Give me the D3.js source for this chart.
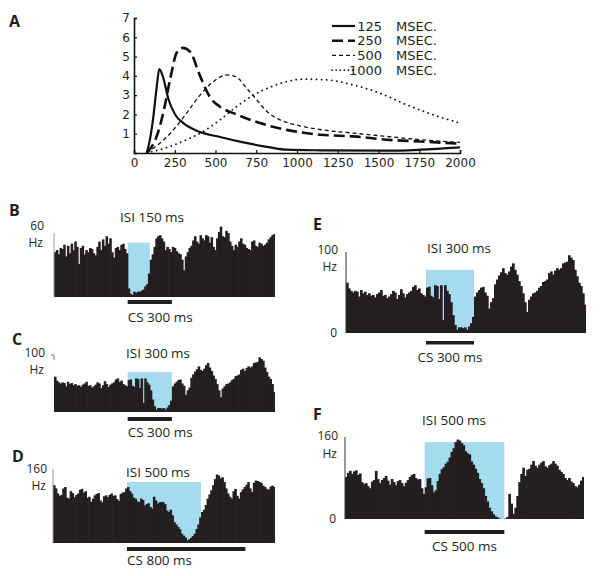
<!DOCTYPE html>
<html>
<head>
<meta charset="utf-8">
<script src="https://cdn.jsdelivr.net/npm/d3@7/dist/d3.min.js"></script>
<style>
  body { margin: 0; background: #fff; }
  svg text { font-family: "Open Sans", "Noto Sans", sans-serif; fill: #231f20; }
  .panelA text { font-family: "DejaVu Sans", sans-serif; }
</style>
</head>
<body>
<div id="chart"></div>
<script>
// ---- panel A: model curves, [ms, value]
const curve125 = [[78,0],[100,0.8],[119,1.9],[139,3.4],[155,4.35],[176,4.0],[211,2.8],[252,2.0],[303,1.55],[385,1.15],[528,0.83],[671,0.55],[834,0.29],[937,0.17],[1141,0.14],[1550,0.12],[1755,0.17],[2000,0.29]];
const curve250 = [[78,0],[139,0.86],[180,2.1],[221,3.8],[262,5.2],[299,5.45],[344,5.25],[405,4.0],[466,2.9],[528,2.4],[630,2.0],[773,1.55],[937,1.2],[1141,0.95],[1346,0.86],[1550,0.69],[1755,0.6],[2000,0.48]];
const curve500 = [[78,0],[221,1.0],[323,2.07],[405,3.0],[487,3.7],[569,4.05],[630,3.93],[691,3.36],[753,2.76],[814,2.16],[896,1.72],[1018,1.41],[1182,1.17],[1346,1.03],[1550,0.86],[1755,0.69],[2000,0.55]];
const curve1000 = [[78,0],[221,0.34],[323,0.69],[425,1.12],[528,1.72],[630,2.41],[732,3.0],[834,3.41],[937,3.7],[1039,3.83],[1182,3.79],[1346,3.53],[1509,3.1],[1673,2.5],[1836,1.98],[2000,1.55]];
const legendNames = ["125", "250", "500", "1000"];
const xTicksA = [0, 250, 500, 750, 1000, 1250, 1500, 1750, 2000];
const yTicksA = [1, 2, 3, 4, 5, 6, 7];

// ---- histograms: Hz per 12.5 ms bin, from -500 to 1000 ms (CS onset at 0)
const histB = [42,44,40,46,45,49,38,48,41,50,44,52,47,31,46,48,40,44,42,46,45,41,39,47,52,44,54,48,57,50,55,42,37,46,47,44,49,50,45,41,
  8,3,2,5,4,5,5,6,7,10,12,22,
  35,40,47,55,57,58,55,52,44,47,45,42,47,46,43,41,40,35,25,38,42,46,48,53,57,52,50,58,55,53,58,57,51,56,47,44,55,61,66,57,56,62,60,52,48,44,49,47,52,55,50,49,46,45,44,52,53,48,47,51,50,48,49,51,54,56,58,59];
const histCE = [62,55,52,50,52,51,45,53,49,51,47,49,46,47,44,48,50,53,46,47,43,45,48,52,50,42,47,54,49,44,48,50,52,57,59,53,55,49,47,45,
  56,57,46,44,59,58,42,59,16,59,52,48,38,22,10,4,7,7,6,7,4,8,12,20,
  45,50,53,56,57,50,46,30,38,43,60,66,71,75,80,74,72,76,82,86,78,72,64,58,49,38,26,41,45,49,50,52,56,58,63,64,66,74,76,72,77,80,78,80,86,87,88,96,93,90,78,70,62,58,49,35];
const histD = [125,118,107,102,104,118,121,98,96,112,108,99,104,107,115,117,109,112,98,100,89,96,103,106,108,92,88,101,103,99,104,107,102,103,95,91,106,109,110,118,
  121,112,107,98,96,90,88,96,93,81,84,86,78,74,100,92,85,88,89,88,84,70,67,72,60,45,40,35,30,20,16,12,6,8,11,15,20,30,40,55,
  67,72,82,96,105,114,125,138,148,146,140,142,132,118,107,100,96,112,117,102,96,110,116,121,126,132,118,110,130,135,134,132,130,124,121,117,115,122,124,121];
const histF = [82,90,94,88,93,95,86,89,72,68,70,64,60,73,76,94,78,70,76,80,84,75,67,78,72,66,74,76,70,64,71,76,82,86,88,80,77,78,60,49,
  62,79,80,66,52,56,74,88,97,101,108,112,120,131,138,150,155,153,148,144,132,128,126,112,106,98,90,78,70,60,45,34,22,15,9,5,3,1,0,0,
  1,4,49,30,10,22,45,72,88,100,84,96,98,106,113,104,100,106,110,113,103,100,105,108,113,108,104,96,92,88,80,76,80,73,70,64,62,67,75,82];

const binMs = 12.5;
const tStart = -500, tEnd = 1000;

const width = 600, height = 576;
const svg = d3.select('#chart').append('svg')
  .attr('width', width)
  .attr('height', height);

// ================= panel A =================
const gA = svg.append('g').attr('class', 'panelA');
const xA = d3.scaleLinear().domain([0, 2000]).range([134, 460]);
const yA = d3.scaleLinear().domain([0, 7]).range([153, 18]);

svg.append('text').attr('x', 9).attr('y', 27)
  .style('font-weight', 'bold').style('font-size', '16px').text('A');

const xAxisA = gA.append('g')
  .attr('transform', `translate(0,${yA(0)})`)
  .call(d3.axisBottom(xA).tickValues(xTicksA).tickSize(-3).tickPadding(5).tickFormat(d3.format('d')));
const yAxisA = gA.append('g')
  .attr('transform', `translate(${xA(0)},0)`)
  .call(d3.axisLeft(yA).tickValues(yTicksA).tickSize(-3).tickPadding(4).tickFormat(d3.format('d')));
[xAxisA, yAxisA].forEach(a => {
  a.select('.domain').attr('stroke', '#111').attr('stroke-width', 1.6);
  a.selectAll('.tick line').attr('stroke', '#111').attr('stroke-width', 1.2);
  a.selectAll('.tick text').style('font-size', '12px').attr('fill', '#111');
});

const lineA = d3.line()
  .x(d => xA(d[0]))
  .y(d => yA(d[1]))
  .curve(d3.curveMonotoneX);

const seriesA = [
  { data: curve125, width: 2.2, dash: null },
  { data: curve250, width: 2.6, dash: '11,5' },
  { data: curve500, width: 1.3, dash: '4,3' },
  { data: curve1000, width: 1.8, dash: '0.1,5' }
];

gA.selectAll('.curve')
  .data(seriesA)
  .enter()
  .append('path')
  .attr('class', 'curve')
  .attr('d', d => lineA(d.data))
  .attr('fill', 'none')
  .attr('stroke', '#111')
  .attr('stroke-width', d => d.width)
  .attr('stroke-linecap', d => d.dash === '0.1,5' ? 'round' : 'butt')
  .attr('stroke-dasharray', d => d.dash);

const legend = gA.append('g').attr('class', 'legend');
seriesA.forEach((s, i) => {
  const y = 26 + i * 14.7;
  legend.append('line')
    .attr('x1', 332).attr('x2', i === 3 ? 354 : 355)
    .attr('y1', y).attr('y2', y)
    .attr('stroke', '#111')
    .attr('stroke-width', s.width)
    .attr('stroke-linecap', s.dash === '0.1,5' ? 'round' : 'butt')
    .attr('stroke-dasharray', s.dash === '0.1,5' ? '0.1,4' : s.dash);
  legend.append('text')
    .attr('x', 382).attr('y', y + 4.5)
    .attr('text-anchor', 'end')
    .style('font-size', '13px').attr('fill', '#111')
    .text(legendNames[i]);
  legend.append('text')
    .attr('x', 396).attr('y', y + 4.5)
    .style('font-size', '13px').attr('fill', '#111')
    .text('MSEC.');
});

// ================= histograms =================
const panels = [
  { letter: 'B', lx: 9, ly: 216, x0: 54, x1: 275, base: 297, top: 233, yMax: 60, data: histB,
    isi: 150, cs: 300, blueTop: 51, isiX: 120, isiY: 222, csY: 300, csH: 4, csAnchor: 'start', csLabelY: 322,
    yLabel: '60', yLabelX: 44, yLabelY: 230, hzY: 246.5, zero: false, axis: 'faint' },
  { letter: 'C', lx: 12, ly: 345, x0: 54, x1: 275, base: 412, top: 355, yMax: 100, data: histCE,
    isi: 300, cs: 300, blueTop: 70, isiX: 126, isiY: 358, csY: 417, csH: 4, csAnchor: 'start', csLabelY: 437,
    yLabel: '100', yLabelX: 45, yLabelY: 357, hzY: 373.5, zero: false, axis: 'tick' },
  { letter: 'D', lx: 12, ly: 462, x0: 53, x1: 275, base: 543, top: 469, yMax: 160, data: histD,
    isi: 500, cs: 800, blueTop: 132, isiX: 126, isiY: 477, csY: 547, csH: 4, csAnchor: 'start', csLabelY: 565,
    yLabel: '160', yLabelX: 47, yLabelY: 473, hzY: 489.5, zero: false, axis: 'faint' },
  { letter: 'E', lx: 313, ly: 230, x0: 346, x1: 586, base: 333, top: 252, yMax: 100, data: histCE,
    isi: 300, cs: 300, blueTop: 78, isiX: 427, isiY: 253, csY: 341, csH: 3.5, csAnchor: 'middle', csLabelY: 362,
    yLabel: '100', yLabelX: 338, yLabelY: 254, hzY: 270.5, zero: true, zeroY: 337, axis: 'full' },
  { letter: 'F', lx: 313, ly: 420, x0: 345, x1: 584, base: 519, top: 437, yMax: 160, data: histF,
    isi: 500, cs: 500, blueTop: 150, isiX: 422, isiY: 425, csY: 530, csH: 4, csAnchor: 'middle', csLabelY: 551,
    yLabel: '160', yLabelX: 338, yLabelY: 440, hzY: 458, zero: true, zeroY: 523, axis: 'full' }
];

const blue = '#a5dbee';
const ink = '#231f20';

panels.forEach(p => {
  const g = svg.append('g').attr('class', 'histo');
  const x = d3.scaleLinear().domain([tStart, tEnd]).range([p.x0, p.x1]);
  const y = d3.scaleLinear().domain([0, p.yMax]).range([p.base, p.top]);
  const barW = x(tStart + binMs) - x(tStart);

  g.append('text').attr('x', p.lx).attr('y', p.ly)
    .style('font-weight', 'bold').style('font-size', '16px').text(p.letter);

  // ISI window
  g.append('rect')
    .attr('x', x(0))
    .attr('y', y(p.blueTop))
    .attr('width', x(p.isi) - x(0))
    .attr('height', y(0) - y(p.blueTop))
    .attr('fill', blue);

  g.selectAll('.bar')
    .data(p.data)
    .enter()
    .append('rect')
    .attr('class', 'bar')
    .attr('x', (d, i) => x(tStart + i * binMs))
    .attr('y', d => y(d))
    .attr('width', (d, i) => i === p.data.length - 1 ? barW : barW + 0.7)
    .attr('height', d => y(0) - y(d))
    .attr('fill', ink);

  // y axis
  if (p.axis === 'full' || p.axis === 'faint') {
    g.append('line')
      .attr('x1', p.x0).attr('x2', p.x0)
      .attr('y1', y(p.yMax)).attr('y2', y(0))
      .attr('stroke', p.axis === 'full' ? '#333' : '#9a9a9a')
      .attr('stroke-width', 1);
  } else {
    g.append('path')
      .attr('d', `M${p.x0 - 3},${y(p.yMax)}H${p.x0}V${y(p.yMax) + 5}`)
      .attr('fill', 'none').attr('stroke', '#777').attr('stroke-width', 1);
  }

  g.append('text').attr('x', p.yLabelX).attr('y', p.yLabelY)
    .attr('text-anchor', 'end').style('font-size', '12px').text(p.yLabel);
  g.append('text').attr('x', p.yLabelX - 1).attr('y', p.hzY)
    .attr('text-anchor', 'end').style('font-size', '12px').text('Hz');
  if (p.zero) {
    g.append('text').attr('x', p.x0 - 9).attr('y', p.zeroY)
      .attr('text-anchor', 'end').style('font-size', '12px').text('0');
  }

  g.append('text').attr('x', p.isiX).attr('y', p.isiY)
    .style('font-size', '13.5px').text(`ISI ${p.isi} ms`);

  // CS bar
  g.append('rect')
    .attr('x', x(0))
    .attr('y', p.csY)
    .attr('width', x(p.cs) - x(0))
    .attr('height', p.csH)
    .attr('fill', ink);
  g.append('text')
    .attr('x', p.csAnchor === 'start' ? x(0) : (x(0) + x(p.cs)) / 2)
    .attr('y', p.csLabelY)
    .attr('text-anchor', p.csAnchor)
    .style('font-size', '13.5px')
    .text(`CS ${p.cs} ms`);
});
</script>
</body>
</html>
